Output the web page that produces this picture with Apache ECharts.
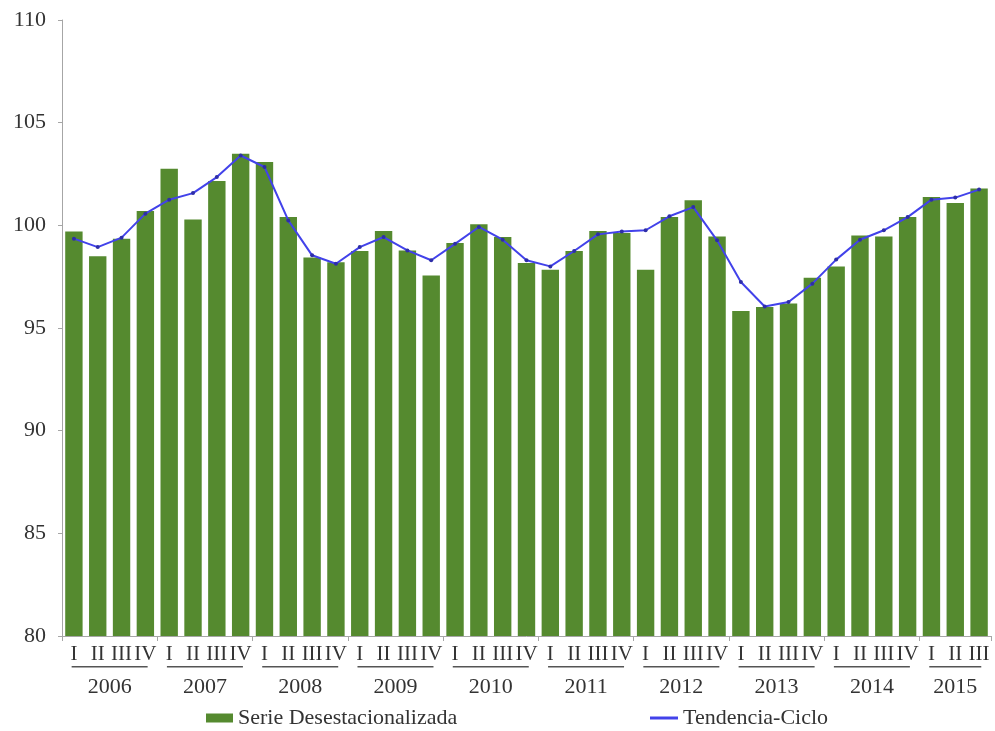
<!DOCTYPE html>
<html>
<head>
<meta charset="utf-8">
<script src="https://cdn.jsdelivr.net/npm/echarts@6/dist/echarts.min.js"></script>
<style>
html,body{margin:0;padding:0;background:#fff;}
#chart{width:995px;height:731px;}
</style>
</head>
<body>
<div id="chart"></div>
<script>
var quarters = ['I','II','III','IV','I','II','III','IV','I','II','III','IV','I','II','III','IV','I','II','III','IV',
  'I','II','III','IV','I','II','III','IV','I','II','III','IV','I','II','III','IV','I','II','III'];
var years = ['2006','2007','2008','2009','2010','2011','2012','2013','2014','2015'];
var quartersPerYear = [4,4,4,4,4,4,4,4,4,3];
var serieDesest = [99.7, 98.5, 99.35, 100.7, 102.76, 100.28, 102.16, 103.49, 103.08, 100.4, 98.43, 98.2,
  98.75, 99.72, 98.78, 97.56, 99.14, 100.05, 99.43, 98.16, 97.84, 98.75, 99.72, 99.63,
  97.84, 100.4, 101.22, 99.46, 95.83, 96.02, 96.19, 97.45, 98.0, 99.51, 99.46, 100.4,
  101.38, 101.09, 101.79];
var tendencia = [99.35, 98.94, 99.4, 100.57, 101.25, 101.57, 102.35, 103.4, 102.84, 100.24, 98.54, 98.13,
  98.94, 99.43, 98.78, 98.3, 99.1, 99.92, 99.3, 98.3, 98.0, 98.75, 99.56, 99.7,
  99.76, 100.44, 100.89, 99.27, 97.24, 96.05, 96.27, 97.16, 98.33, 99.3, 99.76, 100.4,
  101.25, 101.35, 101.74];
var yTicks = {min: 80, max: 110, interval: 5};

// half-slot axis for year labels (built from years / quartersPerYear)
var nHalf = quarters.length * 2;
var yearSlots = [];
for (var j = 0; j <= nHalf; j++) yearSlots.push('');
var yearCenters = {}, yearBounds = {0: true};
var start = 0;
for (var k = 0; k < years.length; k++) {
  var c = start * 2 + quartersPerYear[k];
  yearSlots[c] = years[k];
  yearCenters[c] = quartersPerYear[k];
  start += quartersPerYear[k];
  yearBounds[start * 2] = true;
}

var FONT = 'Liberation Serif';
var TXT = '#333333';
var chart = echarts.init(document.getElementById('chart'));
chart.setOption({
  backgroundColor: '#ffffff',
  animation: false,
  textStyle: {fontFamily: FONT},
  grid: {left: 62, right: 4, top: 20, bottom: 95, containLabel: false},
  legend: [{
    left: 201, top: 702,
    itemWidth: 27, itemHeight: 9, itemGap: 4,
    textStyle: {fontFamily: FONT, fontSize: 22, color: TXT},
    data: [{name: 'Serie Desestacionalizada', icon: 'rect'}]
  }, {
    left: 645, top: 702,
    itemWidth: 28, itemHeight: 3, itemGap: 4,
    textStyle: {fontFamily: FONT, fontSize: 22, color: TXT},
    data: [{name: 'Tendencia-Ciclo', icon: 'rect', itemStyle: {color: '#4242ea'}}]
  }],
  xAxis: [{
    type: 'category',
    data: quarters,
    position: 'bottom',
    axisLine: {show: true, lineStyle: {color: '#a6a6a6', width: 1}},
    axisTick: {show: false},
    axisLabel: {interval: 0, margin: 8, fontFamily: FONT, fontSize: 21, color: TXT}
  }, {
    type: 'category',
    data: yearSlots,
    boundaryGap: false,
    position: 'bottom',
    axisLine: {show: false},
    axisTick: {
      show: true, length: 5, lineStyle: {color: '#a6a6a6'},
      interval: function (i) { return !!yearBounds[i]; }
    },
    axisLabel: {
      margin: 30,
      interval: function (i) { return yearCenters[i] !== undefined; },
      formatter: function (v, i) {
        return (yearCenters[i] === 4 ? '{u|}' : '{s|}') + '\n{y|' + v + '}';
      },
      rich: {
        u: {width: 76, height: 1.5, backgroundColor: '#555555'},
        s: {width: 52, height: 1.5, backgroundColor: '#555555'},
        y: {fontFamily: FONT, fontSize: 22, color: TXT, lineHeight: 40}
      }
    }
  }],
  yAxis: {
    type: 'value',
    min: yTicks.min, max: yTicks.max, interval: yTicks.interval,
    axisLine: {show: true, lineStyle: {color: '#a6a6a6'}},
    axisTick: {show: true, length: 4, lineStyle: {color: '#a6a6a6'}},
    splitLine: {show: false},
    axisLabel: {margin: 16, fontFamily: FONT, fontSize: 22, color: TXT}
  },
  series: [{
    name: 'Serie Desestacionalizada',
    type: 'bar',
    data: serieDesest,
    barCategoryGap: '27%',
    itemStyle: {color: '#558a2f'}
  }, {
    name: 'Tendencia-Ciclo',
    type: 'line',
    data: tendencia,
    symbol: 'circle',
    symbolSize: 4,
    itemStyle: {color: '#2e2ea8'},
    lineStyle: {color: '#4242ea', width: 2}
  }]
});
</script>
</body>
</html>
